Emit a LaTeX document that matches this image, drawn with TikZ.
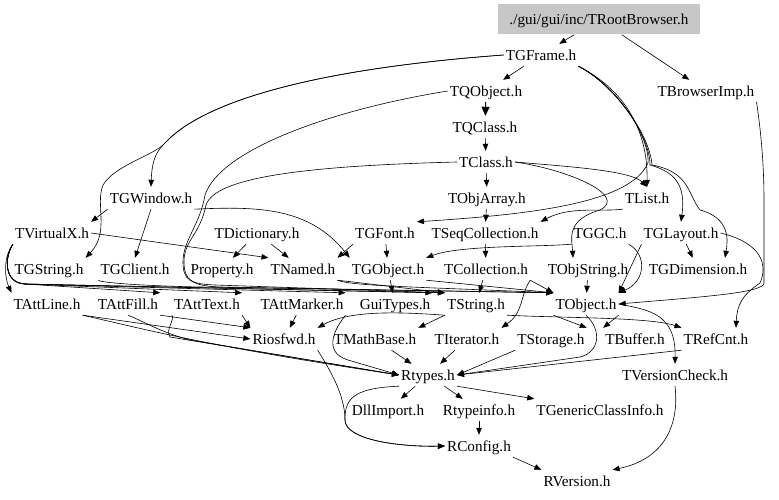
\documentclass[tikz,border=0pt]{standalone}
\usepackage{fontspec}
\setmainfont{Liberation Serif}
\usetikzlibrary{arrows.meta}
\begin{document}
\begin{tikzpicture}[x=1pt,y=-1pt,
  lbl/.style={font=\fontsize{15.2}{18}\selectfont, inner xsep=2pt, inner ysep=4pt, text height=12.5pt, text depth=1.5pt},
  rootbox/.style={lbl, fill=black!22, minimum width=202pt, minimum height=30pt},
  dep/.style={-{Triangle[length=7pt,width=5.5pt]}, line width=0.6pt},
  dep2/.style={-{Triangle[length=9pt,width=8pt]}, line width=1.1pt}]
\useasboundingbox (0,0) rectangle (779,500);
% nodes
\node[rootbox] (root) at (599,19.5) {./gui/gui/inc/TRootBrowser.h};
\node[lbl] (TGFrame) at (541,55) {TGFrame.h};
\node[lbl] (TQObject) at (486,91) {TQObject.h};
\node[lbl] (TBrowserImp) at (706,91) {TBrowserImp.h};
\node[lbl] (TQClass) at (485,127) {TQClass.h};
\node[lbl] (TClass) at (486,162) {TClass.h};
\node[lbl] (TObjArray) at (487,198) {TObjArray.h};
\node[lbl] (TList) at (647,198) {TList.h};
\node[lbl] (TGWindow) at (151,198) {TGWindow.h};
\node[lbl] (TVirtualX) at (52,233) {TVirtualX.h};
\node[lbl] (TDictionary) at (257,233) {TDictionary.h};
\node[lbl] (TGFont) at (385,233) {TGFont.h};
\node[lbl] (TSeqCollection) at (485,233) {TSeqCollection.h};
\node[lbl] (TGGC) at (600,233) {TGGC.h};
\node[lbl] (TGLayout) at (681,233) {TGLayout.h};
\node[lbl] (TGString) at (49,269) {TGString.h};
\node[lbl] (TGClient) at (135,269) {TGClient.h};
\node[lbl] (Property) at (222,269) {Property.h};
\node[lbl] (TNamed) at (303,269) {TNamed.h};
\node[lbl] (TGObject) at (388,269) {TGObject.h};
\node[lbl] (TCollection) at (486,269) {TCollection.h};
\node[lbl] (TObjString) at (588,269) {TObjString.h};
\node[lbl] (TGDimension) at (698,269) {TGDimension.h};
\node[lbl] (TAttLine) at (47,304) {TAttLine.h};
\node[lbl] (TAttFill) at (128,304) {TAttFill.h};
\node[lbl] (TAttText) at (207,304) {TAttText.h};
\node[lbl] (TAttMarker) at (302,304) {TAttMarker.h};
\node[lbl] (GuiTypes) at (395,304) {GuiTypes.h};
\node[lbl] (TString) at (476,304) {TString.h};
\node[lbl] (TObject) at (586,304) {TObject.h};
\node[lbl] (Riosfwd) at (284,339) {Riosfwd.h};
\node[lbl] (TMathBase) at (375,339) {TMathBase.h};
\node[lbl] (TIterator) at (467,339) {TIterator.h};
\node[lbl] (TStorage) at (551,339) {TStorage.h};
\node[lbl] (TBuffer) at (635,339) {TBuffer.h};
\node[lbl] (TRefCnt) at (716,339) {TRefCnt.h};
\node[lbl] (Rtypes) at (428,375) {Rtypes.h};
\node[lbl] (TVersionCheck) at (675,375) {TVersionCheck.h};
\node[lbl] (DllImport) at (388,410) {DllImport.h};
\node[lbl] (Rtypeinfo) at (479,410) {Rtypeinfo.h};
\node[lbl] (TGenericClassInfo) at (600,410) {TGenericClassInfo.h};
\node[lbl] (RConfig) at (479,446) {RConfig.h};
\node[lbl] (RVersion) at (577,481) {RVersion.h};
% edges
\draw[dep] (root) -- (TGFrame);
\draw[dep] (root) -- (TBrowserImp);
\draw[dep] (TGFrame) -- (TQObject);
\draw[dep2] (TQObject) -- (TQClass);
\draw[dep] (TQClass) -- (TClass);
\draw[dep] (TClass) -- (TObjArray);
\draw[dep] (TObjArray) -- (TSeqCollection);
\draw[dep] (TSeqCollection) -- (TCollection);
\draw[dep] (TCollection) -- (TString);
\draw[dep] (TObjString) -- (TObject);
% TGFrame long edges
\draw[dep] (TGFrame.west) .. controls (300,70) and (200,105) .. (165,143) .. controls (156,152) and (152,160) .. (TGWindow.north);
\draw[dep] (TGFrame.west) .. controls (300,70) and (200,105) .. (165,143) .. controls (155,155) and (115,165) .. (103,185) .. controls (95,205) and (110,232) .. (TGString.north east);
\draw[dep] (TGFrame.south east) .. controls (615,85) and (648,120) .. (TList.north);
\draw[dep] (TGFrame.south east) .. controls (615,85) and (650,135) .. (648,163) .. controls (630,205) and (520,215) .. (TGFont.north east);
\draw[dep] (TGFrame.south east) .. controls (615,85) and (650,135) .. (650,165) .. controls (675,172) and (686,185) .. (TGLayout.north);
\draw[dep] (TGFrame.south east) .. controls (615,85) and (650,135) .. (652,165) .. controls (690,172) and (688,195) .. (700,210) .. controls (730,218) and (728,240) .. ([xshift=27pt]TGDimension.north);
\draw[dep] (TClass.east) .. controls (560,166) and (630,170) .. (TList.north);
\draw[dep] (TClass.east) .. controls (570,170) and (628,196) .. (600,210) .. controls (565,220) and (572,240) .. ([xshift=-15pt]TObjString.north);
\draw[dep] (TList.south west) .. controls (600,212) and (570,206) .. (TSeqCollection.north east);
% TGWindow
\draw[dep] (TGWindow.south west) -- (TVirtualX.north east);
\draw[dep] (TGWindow.south) -- (TGClient.north);
\draw[dep] (TGWindow.south east) .. controls (260,206) and (310,208) .. (TGObject.north west);
% TQObject / TClass left curves into bundle
\draw[dep] (TQObject.west) .. controls (330,110) and (220,150) .. (205,195) .. controls (200,225) and (183,240) .. (183,262) .. controls (183,280) and (190,284) .. (215,285) -- (TString.north west);
\draw[dep] (TClass.west) .. controls (300,166) and (215,178) .. (206,205) .. controls (200,235) and (184,240) .. (184,262) .. controls (184,280) and (192,286) .. (220,287) -- (TObject.north west);
% TVirtualX
\draw[dep] (TVirtualX.east) -- (TNamed.north west);
\draw[dep] (TVirtualX.south west) .. controls (4,255) and (4,276) .. (TAttLine.north west);
\foreach \t in {TAttFill,TAttText,TAttMarker,GuiTypes}
  \draw[dep] (TVirtualX.south west) .. controls (4,258) and (4,283) .. (25,284) -- (\t.north east);
\draw[dep] (TVirtualX.south west) .. controls (4,258) and (4,283) .. (25,284) -- (TString.north west);
\draw[dep] (TGClient.south west) .. controls (100,283) and (150,286) .. (200,287) -- (TObject.north west);
% row 233 -> 269
\draw[dep] (TDictionary) -- (Property);
\draw[dep] (TDictionary) -- (TNamed);
\draw[dep] (TGFont.south west) -- (TNamed.north east);
\draw[dep] (TGFont) -- (TGObject);
\draw[dep] (TGGC.south west) .. controls (540,247) and (460,245) .. (TGObject.north east);
\draw[dep] (TGGC.south east) .. controls (648,255) and (645,282) .. (TObject.north east);
\draw[dep] (TGLayout.south west) -- (TObject.north east);
\draw[dep] (TGLayout) -- (TGDimension);
\draw[dep] (TGLayout.east) .. controls (762,243) and (768,265) .. (760,283) .. controls (742,295) and (737,305) .. ([xshift=20pt]TRefCnt.north);
\draw[dep] (TBrowserImp.south east) .. controls (760,125) and (764,160) .. (764,200) -- (764,283) .. controls (764,293) and (700,297) .. (TObject.east);
% row 269 -> 304
\draw[dep] (TGObject) -- (GuiTypes);
\draw[dep] (TGObject.south east) -- (TObject.north west);
\draw[dep] (TNamed.south east) .. controls (350,286) and (420,287) .. (TObject.north west);
\draw[dep] (TNamed.south east) -- (TString.north west);
\draw[dep] (TCollection.south east) .. controls (520,295) and (524,312) .. (TIterator.north east);
\draw[dep] (TCollection.south east) -- (TObject.north west);
% row 304 -> 339
\draw[dep] (TString.south west) -- (TMathBase.north east);
\draw[dep] (TString.south west) .. controls (400,312) and (350,310) .. (Riosfwd.north east);
\draw[dep] (TString.south east) .. controls (560,318) and (650,317) .. (TRefCnt.north west);
\draw[dep] (TObject.south west) -- (TStorage.north east);
\draw[dep] (TObject.south east) -- (TBuffer.north west);
\draw[dep] (TObject.south) .. controls (602,330) and (600,352) .. (580,357) -- (Rtypes.east);
\draw[dep] (TObject.east) .. controls (650,310) and (676,314) .. (TVersionCheck.north);
\draw[dep] (TAttLine.south east) -- (Riosfwd.west);
\draw[dep] (TAttLine.south east) .. controls (140,328) and (200,345) .. (Rtypes.west);
\draw[dep] (TAttFill.south) .. controls (145,322) and (160,332) .. (190,340) -- (Rtypes.west);
\draw[dep] (TAttFill.south east) -- (Riosfwd.north west);
\draw[dep] (TAttText.south west) .. controls (175,320) and (165,330) .. (170,337) -- (Rtypes.west);
\draw[dep] (TAttText.south east) -- (Riosfwd.north west);
\draw[dep] (TAttMarker) -- (Riosfwd);
\draw[dep] (TAttMarker.south east) .. controls (335,328) and (322,352) .. (348,360) -- (Rtypes.west);
% row 339 -> 375
\draw[dep] (TMathBase) -- (Rtypes);
\draw[dep] (TIterator) -- (Rtypes);
\draw[dep] (TStorage.south west) -- (Rtypes.east);
\draw[dep] (TRefCnt.south west) -- (Rtypes.east);
\draw[dep] (Riosfwd.south east) .. controls (330,370) and (345,395) .. (345,420) .. controls (345,440) and (400,447) .. (RConfig.west);
% bottom
\draw[dep] (Rtypes.south west) .. controls (360,388) and (344,395) .. (345,420) .. controls (345,440) and (400,447) .. (RConfig.west);
\draw[dep] (Rtypes) -- (DllImport);
\draw[dep] (Rtypes) -- (Rtypeinfo);
\draw[dep] (Rtypes.south east) -- (TGenericClassInfo.north west);
\draw[dep] (Rtypeinfo) -- (RConfig);
\draw[dep] (RConfig.south east) -- (RVersion.north west);
\draw[dep] (TVersionCheck.south) .. controls (680,430) and (660,460) .. (RVersion.north east);
\end{tikzpicture}
\end{document}
